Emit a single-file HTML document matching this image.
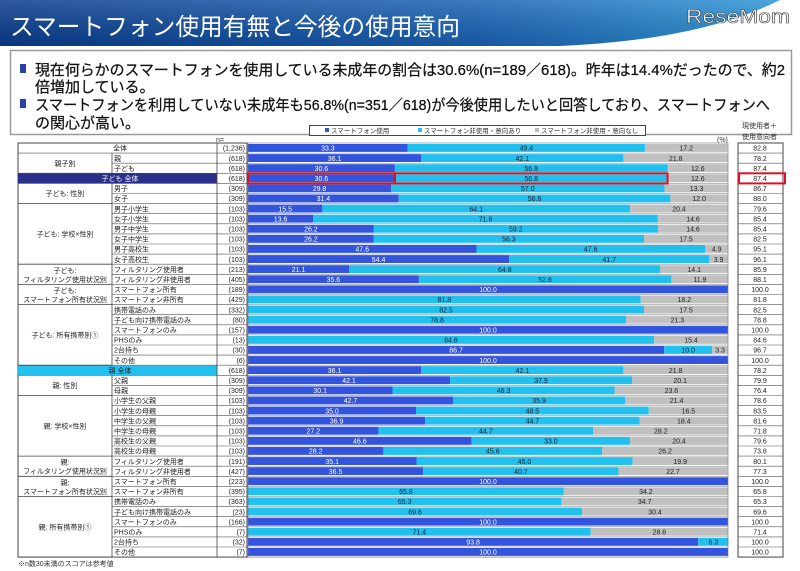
<!DOCTYPE html>
<html><head><meta charset="utf-8">
<style>
html,body{margin:0;padding:0;background:#fff;}
svg{display:block;}
text{font-family:"Liberation Sans","Noto Sans CJK JP",sans-serif;}
</style></head>
<body>
<svg id="s" width="800" height="571" viewBox="0 0 800 571" xmlns="http://www.w3.org/2000/svg">
<defs>
<linearGradient id="tg" x1="0" y1="0" x2="1" y2="0">
<stop offset="0" stop-color="#0a3c8c"/><stop offset="0.6" stop-color="#1a62b4"/><stop offset="1" stop-color="#2f9ad8"/>
</linearGradient>
<linearGradient id="tg2" x1="0" y1="0" x2="0" y2="1">
<stop offset="0" stop-color="#ffffff" stop-opacity="0.15"/><stop offset="1" stop-color="#000" stop-opacity="0.1"/>
</linearGradient>
</defs>
<rect x="0" y="0" width="800" height="46" fill="url(#tg)"/>
<rect x="0" y="0" width="800" height="46" fill="url(#tg2)"/>
<path d="M560 46 Q700 40 780 0 L800 0 L800 46 Z" fill="#ffffff"/>
<text x="10" y="35" font-size="24" fill="#fff" textLength="450" lengthAdjust="spacingAndGlyphs">スマートフォン使用有無と今後の使用意向</text>
<text x="686" y="23" font-size="19" fill="#fff" stroke="#444" stroke-width="0.6" textLength="104" lengthAdjust="spacingAndGlyphs">ReseMom</text>
<rect x="10.5" y="50.5" width="781" height="84" fill="#fff" stroke="#999" stroke-width="1.5"/>
<rect x="20" y="64" width="6" height="9" fill="#2a3fa8"/>
<rect x="20" y="99" width="6" height="9" fill="#2a3fa8"/>
<g font-size="15" fill="#111" stroke="#111" stroke-width="0.25">
<text x="35" y="75" textLength="750" lengthAdjust="spacingAndGlyphs">現在何らかのスマートフォンを使用している未成年の割合は30.6%(n=189／618)。昨年は14.4%だったので、約2</text>
<text x="35" y="92">倍増加している。</text>
<text x="35" y="110" textLength="735" lengthAdjust="spacingAndGlyphs">スマートフォンを利用していない未成年も56.8%(n=351／618)が今後使用したいと回答しており、スマートフォンへ</text>
<text x="35" y="128">の関心が高い。</text>
</g>
<rect x="309.5" y="125.5" width="336" height="10" fill="#fff" stroke="#444" stroke-width="1"/>
<g font-size="6.5" fill="#333">
<rect x="325" y="128" width="4" height="4" fill="#3355dd"/><text x="331" y="133">スマートフォン使用</text>
<rect x="418" y="128" width="4" height="4" fill="#22c0ee"/><text x="424" y="133">スマートフォン非使用・意向あり</text>
<rect x="535" y="128" width="4" height="4" fill="#bbb"/><text x="541" y="133">スマートフォン非使用・意向なし</text>
</g>
<g font-size="7" fill="#333">
<text x="742" y="128">現使用者＋</text>
<text x="742" y="139">使用意向者</text>
<text x="717" y="142">(%)</text>
<text x="216" y="142">n=</text>
</g>
<text x="18" y="566" font-size="7" fill="#333">※n数30未満のスコアは参考値</text>
<g id="g"></g>
</svg>
<script>
var R=[
["全体","",1236,33.3,49.4,17.2,"82.8"],
["","親",618,36.1,42.1,21.8,"78.2"],
["","子ども",618,30.6,56.8,12.6,"87.4"],
["子ども 全体","",618,30.6,56.8,12.6,"87.4"],
["","男子",309,29.8,57.0,13.3,"86.7"],
["","女子",309,31.4,56.6,12.0,"88.0"],
["","男子小学生",103,15.5,64.1,20.4,"79.6"],
["","女子小学生",103,13.6,71.8,14.6,"85.4"],
["","男子中学生",103,26.2,59.2,14.6,"85.4"],
["","女子中学生",103,26.2,56.3,17.5,"82.5"],
["","男子高校生",103,47.6,47.6,4.9,"95.1"],
["","女子高校生",103,54.4,41.7,3.9,"96.1"],
["","フィルタリング使用者",213,21.1,64.8,14.1,"85.9"],
["","フィルタリング非使用者",405,35.6,52.6,11.9,"88.1"],
["","スマートフォン所有",189,100,0,0,"100.0"],
["","スマートフォン非所有",429,0,81.8,18.2,"81.8"],
["","携帯電話のみ",332,0,82.5,17.5,"82.5"],
["","子ども向け携帯電話のみ",80,0,78.8,21.3,"78.8"],
["","スマートフォンのみ",157,100,0,0,"100.0"],
["","PHSのみ",13,0,84.6,15.4,"84.6"],
["","2台持ち",30,86.7,10.0,3.3,"96.7"],
["","その他",6,100,0,0,"100.0"],
["親 全体","",618,36.1,42.1,21.8,"78.2"],
["","父親",309,42.1,37.9,20.1,"79.9"],
["","母親",309,30.1,46.3,23.6,"76.4"],
["","小学生の父親",103,42.7,35.9,21.4,"78.6"],
["","小学生の母親",103,35.0,48.5,16.5,"83.5"],
["","中学生の父親",103,36.9,44.7,18.4,"81.6"],
["","中学生の母親",103,27.2,44.7,28.2,"71.8"],
["","高校生の父親",103,46.6,33.0,20.4,"79.6"],
["","高校生の母親",103,28.2,45.6,26.2,"73.8"],
["","フィルタリング使用者",191,35.1,45.0,19.9,"80.1"],
["","フィルタリング非使用者",427,36.5,40.7,22.7,"77.3"],
["","スマートフォン所有",223,100,0,0,"100.0"],
["","スマートフォン非所有",395,0,65.8,34.2,"65.8"],
["","携帯電話のみ",363,0,65.3,34.7,"65.3"],
["","子ども向け携帯電話のみ",23,0,69.6,30.4,"69.6"],
["","スマートフォンのみ",166,100,0,0,"100.0"],
["","PHSのみ",7,0,71.4,28.6,"71.4"],
["","2台持ち",32,93.8,6.3,0,"100.0"],
["","その他",7,100,0,0,"100.0"]];
var G=[["親子別",1,2],["子ども: 性別",4,5],["子ども: 学校×性別",6,11],["子ども:|フィルタリング使用状況別",12,13],["子ども:|スマートフォン所有状況別",14,15],["子ども: 所有携帯別①",16,21],["親: 性別",23,24],["親: 学校×性別",25,30],["親:|フィルタリング使用状況別",31,32],["親:|スマートフォン所有状況別",33,34],["親: 所有携帯別①",35,40]];
var T=143,H=10.1,X0=248,X1=728,W=X1-X0,s="";
function t(x,y,str,o){return '<text x="'+x+'" y="'+y+'" '+(o||'')+'>'+str+'</text>';}
s+='<rect x="18" y="'+T+'" width="229" height="'+(41*H)+'" fill="#fff" stroke="#444" stroke-width="1"/>';
s+='<rect x="738" y="'+T+'" width="45" height="'+(41*H)+'" fill="#fff" stroke="#444" stroke-width="1"/>';
for(var i=0;i<41;i++){
 var r=R[i],y=T+i*H,cy=y+H/2+2.6;
 if(i==3) s+='<rect x="18" y="'+y+'" width="199" height="'+H+'" fill="#2a2f8a"/>';
 if(i==22) s+='<rect x="18" y="'+y+'" width="199" height="'+H+'" fill="#22c0ee"/>';
 if(r[0]) s+=t(120,cy,r[0],'font-size="7" text-anchor="middle" fill="'+(i==3?'#fff':'#222')+'"');
 if(r[1]) s+=t(114,cy,r[1],'font-size="7" fill="#222"');
 s+=t(245,cy,'('+r[2].toLocaleString('en-US')+')','font-size="7" text-anchor="end" fill="#222"');
 s+='<line x1="'+(r[1]?112:18)+'" y1="'+(y+H)+'" x2="247" y2="'+(y+H)+'" stroke="#555" stroke-width="0.6"/>';
 s+='<line x1="738" y1="'+(y+H)+'" x2="783" y2="'+(y+H)+'" stroke="#555" stroke-width="0.6"/>';
 s+=t(760,cy,r[6],'font-size="7" text-anchor="middle" fill="#222"');
 var x=X0,by=y+1,bh=H-2.2,c=[["#3355dd","#fff"],["#22c0ee","#123"],["#c0c0c0","#222"]];
 for(var k=0;k<3;k++){var v=r[3+k];if(!v)continue;var w=W*v/100;
  s+='<rect x="'+x.toFixed(1)+'" y="'+by.toFixed(1)+'" width="'+w.toFixed(1)+'" height="'+bh.toFixed(1)+'" fill="'+c[k][0]+'"/>';
  s+=t((x+w/2).toFixed(1),cy,v.toFixed(1),'font-size="7" text-anchor="middle" fill="'+c[k][1]+'"');
  x+=w;}
 s+='<line x1="'+X0+'" y1="'+(y+H)+'" x2="'+X1+'" y2="'+(y+H)+'" stroke="#777" stroke-width="0.5"/>';
}
s+='<line x1="112" y1="'+(T+H)+'" x2="112" y2="'+(T+3*H)+'" stroke="#444" stroke-width="0.8"/>';
s+='<line x1="112" y1="'+(T+4*H)+'" x2="112" y2="'+(T+22*H)+'" stroke="#444" stroke-width="0.8"/>';
s+='<line x1="112" y1="'+(T+23*H)+'" x2="112" y2="'+(T+41*H)+'" stroke="#444" stroke-width="0.8"/>';
s+='<line x1="217" y1="'+T+'" x2="217" y2="'+(T+41*H)+'" stroke="#444" stroke-width="0.8"/>';
s+='<rect x="'+X0+'" y="'+T+'" width="'+W+'" height="'+(41*H)+'" fill="none" stroke="#777" stroke-width="0.6"/>';
for(var j=0;j<G.length;j++){var g=G[j],y0=T+g[1]*H,y1=T+(g[2]+1)*H,m=(y0+y1)/2,p=g[0].split('|');
 s+='<line x1="18" y1="'+y1+'" x2="112" y2="'+y1+'" stroke="#444" stroke-width="0.8"/>';
 if(p.length==1) s+=t(65,m+2.6,p[0],'font-size="7" text-anchor="middle" fill="#222"');
 else {s+=t(65,m-1.5,p[0],'font-size="7" text-anchor="middle" fill="#222"');s+=t(65,m+7.5,p[1],'font-size="7" text-anchor="middle" fill="#222"');}
}
var ry=T+3*H,bw=W*30.6/100;
s+='<rect x="'+X0+'" y="'+ry+'" width="'+bw+'" height="'+H+'" fill="none" stroke="#e01020" stroke-width="2"/>';
s+='<rect x="'+(X0+bw)+'" y="'+ry+'" width="'+(W*56.8/100)+'" height="'+H+'" fill="none" stroke="#e01020" stroke-width="2"/>';
s+='<rect x="739" y="'+ry+'" width="46" height="'+H+'" fill="none" stroke="#e01020" stroke-width="2"/>';
document.getElementById('g').innerHTML=s;
</script>
</body></html>
